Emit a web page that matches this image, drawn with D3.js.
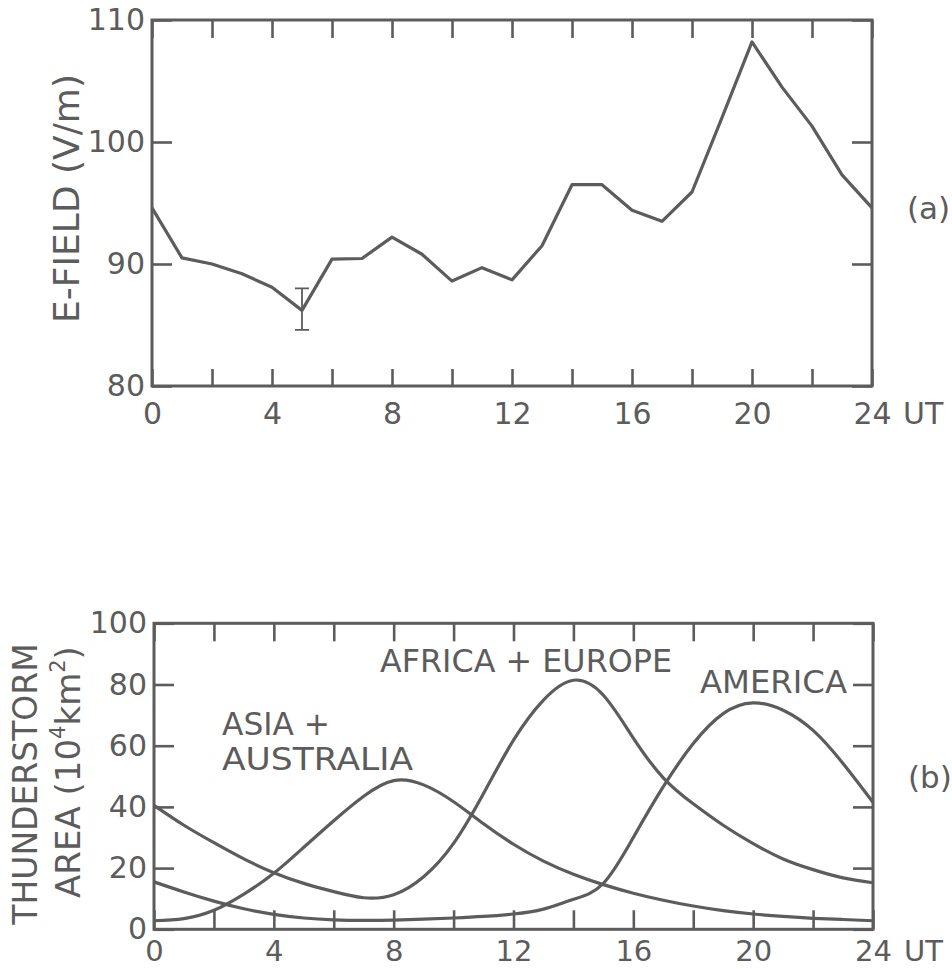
<!DOCTYPE html>
<html>
<head>
<meta charset="utf-8">
<script src="https://cdn.jsdelivr.net/npm/d3@7"></script>
<style>
  body { margin: 0; background: #fff; }
  svg { display: block; font-family: "DejaVu Sans", sans-serif; }
</style>
</head>
<body>
<svg id="chart" width="952" height="969"></svg>
<script>
// ---- data -------------------------------------------------------------
const hours = d3.range(0, 25);                 // UT hours 0..24
const hourTicks = d3.range(0, 25, 2);          // tick every 2 h
const hourLabels = [0, 4, 8, 12, 16, 20, 24];  // labelled ticks

// (a) hourly mean electric field, V/m
const eField = [94.6, 90.5, 90.0, 89.2, 88.1, 86.2, 90.4, 90.45, 92.2, 90.8,
                88.6, 89.7, 88.7, 91.5, 96.5, 96.5, 94.4, 93.5, 95.9, 102.0,
                108.2, 104.5, 101.3, 97.3, 94.6];
const errorHour = 5;
const errorRange = [84.6, 88.0];
const eFieldTicks = [80, 90, 100, 110];

// (b) thunderstorm area, 10^4 km^2
const areaTicks = [0, 20, 40, 60, 80, 100];
const africaEurope = [40.5, 34.0, 28.3, 23.0, 18.5, 15.0, 12.3, 10.3, 11.3, 17.2,
                      28.1, 44.4, 61.8, 74.9, 81.4, 76.5, 62.5, 49.5, 41.0, 34.0,
                      28.0, 23.0, 19.5, 16.8, 15.2];
const america = [15.5, 12.2, 9.2, 6.7, 4.9, 3.7, 3.1, 2.9, 3.0, 3.3,
                 3.7, 4.2, 5.0, 6.6, 9.8, 15.0, 30.0, 46.6, 60.7, 70.5,
                 74.0, 71.6, 65.0, 54.2, 41.5];
const asiaAustralia = [2.8, 3.5, 6.2, 11.5, 18.3, 26.8, 35.5, 43.5, 48.6, 47.2,
                       41.7, 34.5, 27.8, 22.3, 18.0, 14.6, 11.8, 9.5, 7.6, 6.1,
                       5.0, 4.2, 3.6, 3.2, 2.8];

// ---- drawing ----------------------------------------------------------
const INK = "#5c5c5c";
const svg = d3.select("#chart");

function styleAxis(g, fontSize) {
  g.select(".domain").remove();
  g.selectAll(".tick line").attr("stroke", INK).attr("stroke-width", 2.6);
  g.selectAll(".tick text").attr("fill", INK).attr("font-size", fontSize)
    .attr("font-family", "DejaVu Sans, sans-serif");
  g.attr("font-family", null).attr("font-size", null);
}

function panel(x, y, yTicks, o) {
  const g = svg.append("g");
  const [x0, x1] = x.range();
  const [yb, yt] = y.range();

  g.append("rect")
    .attr("x", x0).attr("y", yt)
    .attr("width", x1 - x0).attr("height", yb - yt)
    .attr("fill", "none").attr("stroke", INK).attr("stroke-width", 3);

  g.append("g").attr("transform", `translate(0,${yb})`)
    .call(d3.axisBottom(x).tickValues(hourTicks).tickSizeInner(-o.tickBottom)
      .tickSizeOuter(0).tickPadding(o.padBottom)
      .tickFormat(d => hourLabels.includes(d) ? d : ""))
    .call(s => styleAxis(s, o.xFont));

  g.append("g").attr("transform", `translate(0,${yt})`)
    .call(d3.axisTop(x).tickValues(hourTicks).tickSizeInner(-o.tickTop)
      .tickSizeOuter(0).tickFormat(""))
    .call(s => styleAxis(s, o.xFont));

  g.append("g").attr("transform", `translate(${x0},0)`)
    .call(d3.axisLeft(y).tickValues(yTicks).tickSizeInner(-20)
      .tickSizeOuter(0).tickPadding(o.padLeft))
    .call(s => styleAxis(s, o.yFont));

  g.append("g").attr("transform", `translate(${x1},0)`)
    .call(d3.axisRight(y).tickValues(yTicks).tickSizeInner(-20)
      .tickSizeOuter(0).tickFormat(""))
    .call(s => styleAxis(s, o.yFont));

  g.append("text")
    .attr("x", x1 + 31).attr("y", yb + o.utBaseline)
    .attr("fill", INK).attr("font-size", o.xFont)
    .text("UT");
  return g;
}

// ---- panel (a) --------------------------------------------------------
const xa = d3.scaleLinear().domain([0, 24]).range([152, 872]);
const ya = d3.scaleLinear().domain([80, 110]).range([386, 20]);
const ga = panel(xa, ya, eFieldTicks,
  { tickBottom: 17, tickTop: 18, padBottom: 17, padLeft: 7, xFont: 30, yFont: 30, utBaseline: 38 });

ga.append("path")
  .datum(hours)
  .attr("fill", "none").attr("stroke", INK).attr("stroke-width", 3.2)
  .attr("stroke-linejoin", "round")
  .attr("d", d3.line().x(h => xa(h)).y(h => ya(eField[h])));

const ex = xa(errorHour);
ga.append("path")
  .attr("fill", "none").attr("stroke", INK).attr("stroke-width", 1.8)
  .attr("d", `M${ex},${ya(errorRange[0])}V${ya(errorRange[1])}` +
             `M${ex - 7},${ya(errorRange[0])}h14M${ex - 7},${ya(errorRange[1])}h14`);

svg.append("text")
  .attr("transform", "translate(79,198.5) rotate(-90)")
  .attr("text-anchor", "middle").attr("fill", INK).attr("font-size", 36)
  .text("E-FIELD (V/m)");

svg.append("text")
  .attr("x", 907).attr("y", 219)
  .attr("fill", INK).attr("font-size", 31)
  .text("(a)");

// ---- panel (b) --------------------------------------------------------
const xb = d3.scaleLinear().domain([0, 24]).range([154, 873]);
const yb = d3.scaleLinear().domain([0, 100]).range([929.3, 623.3]);
const gb = panel(xb, yb, areaTicks,
  { tickBottom: 19, tickTop: 18, padBottom: 11, padLeft: 7, xFont: 29, yFont: 30, utBaseline: 31.7 });

const curve = d3.line().curve(d3.curveNatural);
[africaEurope, america, asiaAustralia].forEach(series => {
  gb.append("path")
    .attr("fill", "none").attr("stroke", INK).attr("stroke-width", 3.2)
    .attr("d", curve(hours.map(h => [xb(h), yb(series[h])])));
});

const regionLabels = [
  { text: "AFRICA + EUROPE", x: 380, y: 672, len: 292 },
  { text: "AMERICA", x: 700, y: 693, len: 147 },
  { text: "ASIA +", x: 222, y: 735, len: 108 },
  { text: "AUSTRALIA", x: 222, y: 770, len: 191 }
];
gb.selectAll("text.region").data(regionLabels).join("text")
  .attr("class", "region")
  .attr("x", d => d.x).attr("y", d => d.y)
  .attr("textLength", d => d.len).attr("lengthAdjust", "spacingAndGlyphs")
  .attr("fill", INK).attr("font-size", 31.5)
  .text(d => d.text);

svg.append("text")
  .attr("transform", "translate(37,784) rotate(-90)")
  .attr("text-anchor", "middle").attr("fill", INK).attr("font-size", 33)
  .text("THUNDERSTORM");

const area = svg.append("text")
  .attr("transform", "translate(80,772) rotate(-90)")
  .attr("text-anchor", "middle").attr("fill", INK).attr("font-size", 34);
area.append("tspan").text("AREA (10");
area.append("tspan").attr("dy", -15).attr("font-size", 21).text("4");
area.append("tspan").attr("dy", 15).text("km");
area.append("tspan").attr("dy", -15).attr("font-size", 21).text("2");
area.append("tspan").attr("dy", 15).text(")");

svg.append("text")
  .attr("x", 908).attr("y", 788)
  .attr("fill", INK).attr("font-size", 31)
  .text("(b)");
</script>
</body>
</html>
